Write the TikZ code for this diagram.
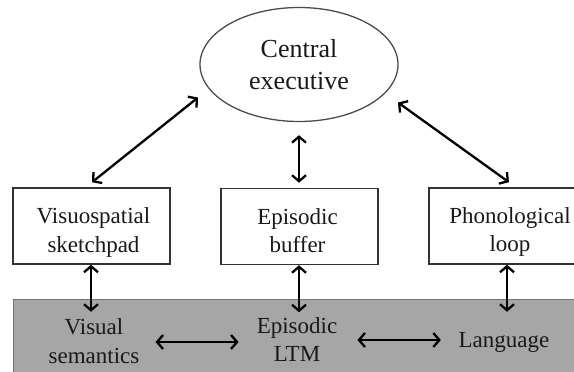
\documentclass[tikz,border=0pt]{standalone}
\usepackage{fontspec}
\setmainfont{Liberation Serif}
\usetikzlibrary{arrows.meta,calc,shapes.geometric}
\begin{document}
\begin{tikzpicture}[x=1pt,y=1pt,
  boxfont/.style={font=\fontsize{23}{28.5}\selectfont},
  modbox/.style={draw=black!80,line width=1.5pt,minimum width=157pt,minimum height=76pt,inner sep=0pt},
  lbl/.style={boxfont,align=center,inner sep=0pt,text=black!90},
  arr/.style={line width=2.3pt,{Straight Barb[length=6pt,width=14pt]}-{Straight Barb[length=6pt,width=14pt]}},
]
\useasboundingbox (0,0) rectangle (574,372);
\clip (0,0) rectangle (574,372);
\fill[white] (0,0) rectangle (574,372);
% grey long-term memory band
\node[draw=black!55,fill=black!35,line width=1pt,anchor=north west,minimum width=580pt,minimum height=90pt,inner sep=0pt] (ltm) at (13,73) {};
% central executive
\node[draw=black!70,line width=1.3pt,ellipse,minimum width=198pt,minimum height=114pt,inner sep=0pt,
      align=center,text=black!90,font=\fontsize{26}{31.5}\selectfont] (ce) at (299,307.5) {Central\\executive};
% subsystem boxes
\node[modbox] (vs) at (91.5,146) {};
\node[modbox] (eb) at (299.5,145.5) {};
\node[modbox,minimum width=160pt] (pl) at (509,146) {};
\node[lbl] (vst) at (93.5,139.5) {Visuospatial\\sketchpad};
\node[lbl] (ebt) at (297.5,141.3) {Episodic\\buffer};
\node[lbl] (plt) at (510,140) {Phonological\\loop};
% long-term memory contents
\node[lbl] (vsem) at (94,31) {Visual\\semantics};
\node[lbl] (elt) at (297,32.3) {Episodic\\LTM};
\node[lbl] (lang) at (504,30) {Language};
% connectors
\draw[arr] ($(ce.center)+(-101,-33)$) -- ($(vs.north)+(0.5,5)$);
\draw[arr] ($(ce.south)+(0,-13)$) -- ($(eb.north)+(-0.5,5)$);
\draw[arr] ($(ce.center)+(99,-38)$) -- ($(pl.north)+(0,5)$);
\draw[arr] ($(vs.south)+(-0.5,0)$) -- ($(vs.south)+(-0.5,-47)$);
\draw[arr] ($(eb.south)+(-0.5,0)$) -- ($(eb.south)+(-0.5,-47)$);
\draw[arr] ($(pl.south)+(-2,0)$) -- ($(pl.south)+(-2,-47)$);
\draw[arr] ($(vsem.east)+(16,-1)$) -- ($(elt.west)+(-18,-2.3)$);
\draw[arr] ($(elt.east)+(20,-0.3)$) -- ($(lang.west)+(-17.6,2)$);
\end{tikzpicture}
\end{document}
